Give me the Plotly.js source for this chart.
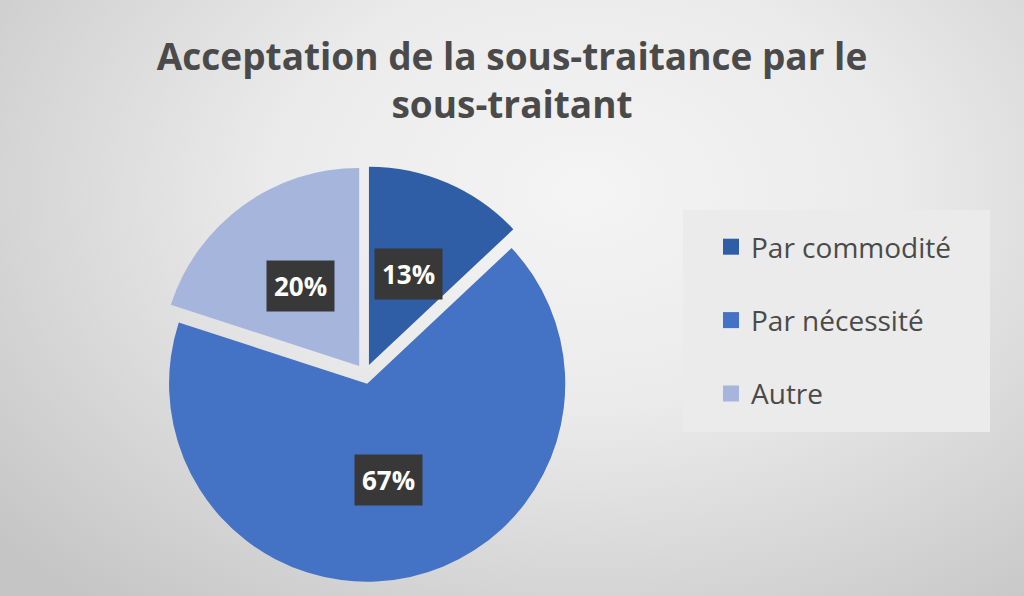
<!DOCTYPE html>
<html><head><meta charset="utf-8">
<script src="https://cdn.plot.ly/plotly-3.0.1.min.js"></script>
<style>
html,body{margin:0;padding:0;}
#chart{width:1024px;height:596px;background:radial-gradient(ellipse 75% 90% at 57% 32%, #f4f4f4 0%, #ebebeb 40%, #c5c5c5 100%);}
</style></head><body><div id="chart"></div>
<script>
const categories = ['Par commodité', 'Par nécessité', 'Autre'];
const values = [13, 67, 20];
const pctLabels = ['13%', '67%', '20%'];
const colors = ['#2f5ea6', '#4472c4', '#a5b5dc'];
const titleText = 'Acceptation de la sous-traitance par le<br>sous-traitant';

const W = 1024, H = 596;
const pull = 0.05;
const dom = {x: [157 / W, 573 / W], y: [(H - 582) / H, (H - 166) / H]};

const traces = [{
  type: 'pie', values: values, labels: categories, sort: false,
  direction: 'clockwise', rotation: 0, pull: pull,
  marker: {colors: colors, line: {width: 0}},
  textinfo: 'none', hoverinfo: 'label+percent', showlegend: false,
  domain: dom
}];
categories.forEach((c, i) => traces.push({
  type: 'scatter', x: [null], y: [null], mode: 'markers', name: c,
  legendgroup: 'g' + i, marker: {symbol: 'square', size: 16, color: colors[i]},
  hoverinfo: 'skip'
}));

// label positions derived from slice angles
const total = values.reduce((a, b) => a + b, 0);
const boxPx = (dom.x[1] - dom.x[0]) * W;
const r = boxPx / (2 + 2 * pull);
const cx = (dom.x[0] + dom.x[1]) / 2, cy = (dom.y[0] + dom.y[1]) / 2;
let cum = 0;
const annotations = values.map((v, i) => {
  const mid = (cum + v / 2) / total * 2 * Math.PI; cum += v;
  const d = (0.5 + pull) * r;
  return {
    xref: 'paper', yref: 'paper', x: cx + d * Math.sin(mid) / W, y: cy + d * Math.cos(mid) / H,
    text: '<b>' + pctLabels[i] + '</b>', showarrow: false,
    font: {family: 'Open Sans', size: 26, color: '#ffffff'},
    bgcolor: '#383838', borderpad: 7, xanchor: 'center', yanchor: 'middle'
  };
});

const layout = {
  width: W, height: H,
  margin: {l: 0, r: 0, t: 0, b: 0},
  paper_bgcolor: 'rgba(0,0,0,0)', plot_bgcolor: 'rgba(0,0,0,0)',
  title: {text: '<b>' + titleText + '</b>', x: 0.5, xanchor: 'center', xref: 'paper',
    y: 1 - 70 / H, yanchor: 'top', yref: 'container',
    font: {family: 'Open Sans', size: 37, color: '#4a4a4a'}},
  xaxis: {visible: false}, yaxis: {visible: false},
  showlegend: true,
  legend: {x: 711 / W, y: (H - 222) / H, xanchor: 'left', yanchor: 'top',
    bgcolor: 'rgba(0,0,0,0)', tracegroupgap: 34, traceorder: 'grouped',
    font: {family: 'Open Sans', size: 28, color: '#4a4a4a'}},
  shapes: [{type: 'rect', xref: 'paper', yref: 'paper', x0: 683 / W, x1: 990 / W,
    y0: (H - 432) / H, y1: (H - 210) / H, fillcolor: '#ebebeb', line: {width: 0}, layer: 'below'}],
  annotations: annotations
};
Plotly.newPlot('chart', traces, layout, {displayModeBar: false});
</script></body></html>
